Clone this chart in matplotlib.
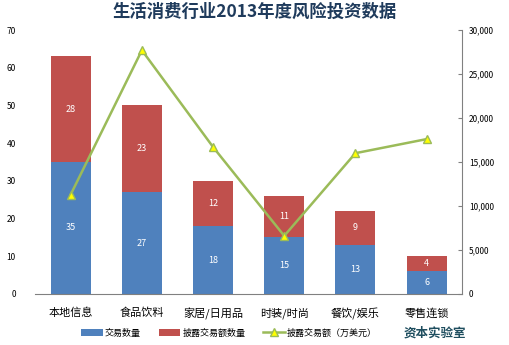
import matplotlib
matplotlib.use("Agg")
from matplotlib import pyplot as plt
from matplotlib.ticker import FuncFormatter

plt.rcParams['font.family'] = ['Noto Sans CJK SC', 'DejaVu Sans']

categories = ["本地信息", "食品饮料", "家居/日用品", "时装/时尚", "餐饮/娱乐", "零售连锁"]
deal_count = [35, 27, 18, 15, 13, 6]
disclosed_count = [28, 23, 12, 11, 9, 4]
disclosed_amount = [11300, 27700, 16700, 6600, 16000, 17600]

blue = "#4F81BD"
red = "#C0504D"
green = "#9BBB59"

fig = plt.figure(figsize=(5.09, 3.45), dpi=100)
ax = fig.add_axes([0.069, 0.148, 0.839, 0.765])
ax2 = ax.twinx()

x = list(range(len(categories)))
b1 = ax.bar(x, deal_count, width=0.56, color=blue, label="交易数量")
b2 = ax.bar(x, disclosed_count, width=0.56, bottom=deal_count, color=red, label="披露交易额数量")

for i in x:
    ax.text(i, deal_count[i] / 2, str(deal_count[i]), ha="center", va="center",
            color="white", fontsize=6.5)
    ax.text(i, deal_count[i] + disclosed_count[i] / 2, str(disclosed_count[i]),
            ha="center", va="center", color="white", fontsize=6.5)

l1, = ax2.plot(x, disclosed_amount, color=green, lw=1.8, marker="^", markersize=6,
               markerfacecolor="#FFFF00", markeredgecolor="#9BBB59",
               label="披露交易额（万美元）")

ax.set_xlim(-0.5, 5.5)
ax.set_ylim(0, 70)
ax.set_yticks(range(0, 71, 10))
ax2.set_ylim(0, 30000)
ax2.set_yticks(range(0, 30001, 5000))
ax2.yaxis.set_major_formatter(FuncFormatter(lambda v, p: f"{int(v):,}"))

ax.set_xticks(x)
ax.set_xticklabels(categories, fontsize=8)
ax.tick_params(axis="x", length=0, pad=10)
ax.tick_params(axis="y", length=0, labelsize=6, pad=14)
ax2.tick_params(axis="y", direction="in", length=3, labelsize=6, pad=5, color="#808080")

for sp in ["top", "left", "right"]:
    ax.spines[sp].set_visible(False)
for sp in ["top", "left", "bottom"]:
    ax2.spines[sp].set_visible(False)
ax.spines["bottom"].set_color("#808080")
ax2.spines["right"].set_color("#808080")

fig.text(0.5, 0.965, "生活消费行业2013年度风险投资数据", ha="center", va="center",
         fontsize=12.5, fontweight="bold", color="#1F3B5C")

fig.legend([b1, b2, l1], ["交易数量", "披露交易额数量", "披露交易额（万美元）"],
           loc="center", bbox_to_anchor=(0.45, 0.035), ncol=3, frameon=False,
           fontsize=6.5, handlelength=2.4, handletextpad=0.2, columnspacing=2.0)

fig.text(0.855, 0.035, "资本实验室", ha="center", va="center", fontsize=9,
         fontweight="bold", color="#1F4E5F")

plt.savefig("out.png", dpi=100)
